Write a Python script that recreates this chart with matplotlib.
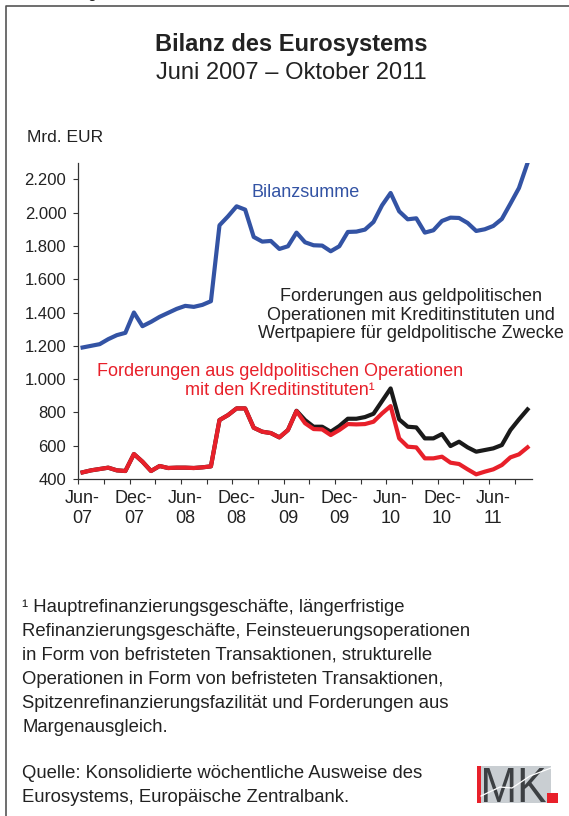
import numpy as np
import pandas as pd
import matplotlib
matplotlib.use("Agg")
import matplotlib.pyplot as plt
from matplotlib.patches import Rectangle, PathPatch
from matplotlib.textpath import TextPath
from matplotlib.font_manager import FontProperties
from matplotlib.transforms import Affine2D
from matplotlib.lines import Line2D
from matplotlib.ticker import FuncFormatter

plt.rcParams["font.family"] = ["Liberation Sans", "DejaVu Sans"]

# monthly, Jun 2007 .. Oct 2011 (Mrd. EUR)
months = pd.date_range("2007-06-01", periods=53, freq="MS")

bilanzsumme = [1190, 1200, 1210, 1240, 1264, 1278, 1400, 1318, 1344, 1374, 1398, 1422,
               1440, 1434, 1446, 1468, 1924, 1978, 2038, 2018, 1854, 1826, 1830, 1782,
               1798, 1880, 1822, 1804, 1802, 1768, 1798, 1884, 1886, 1898, 1944, 2044,
               2118, 2008, 1960, 1966, 1880, 1894, 1950, 1970, 1968, 1938, 1890, 1900,
               1920, 1962, 2054, 2148, 2298]

ford_mit_wp = [440, 452, 460, 468, 452, 448, 550, 504, 448, 478, 466, 468,
               468, 466, 470, 476, 754, 784, 824, 824, 708, 684, 676, 650,
               694, 810, 754, 714, 714, 684, 718, 762, 762, 772, 792, 868,
               944, 758, 714, 710, 644, 644, 670, 598, 624, 590, 564, 574,
               584, 604, 694, 758, 818]

ford_ki = [440, 452, 460, 468, 452, 448, 550, 504, 448, 478, 466, 468,
           468, 466, 470, 476, 754, 784, 824, 824, 708, 684, 676, 650,
           694, 808, 735, 700, 698, 664, 694, 730, 728, 730, 744, 794,
           838, 644, 594, 590, 524, 524, 534, 498, 490, 458, 428, 444,
           458, 484, 530, 548, 590]

BLUE = "#3353A4"
RED = "#E8202A"
TXT = "#222222"

W, H = 569, 816
fig = plt.figure(figsize=(W / 100, H / 100), dpi=100)


def fx(px):
    return px / W


def fy(py):
    return 1 - py / H


ax = fig.add_axes([fx(78.3), fy(479), (531.8 - 78.3) / W, (479 - 162.7) / H])
x = np.arange(len(months))
ax.plot(x, bilanzsumme, color=BLUE, lw=3.0, solid_joinstyle="round", zorder=3)
ax.plot(x, ford_mit_wp, color="#1a1a1a", lw=3.0, solid_joinstyle="round", zorder=3)
ax.plot(x, ford_ki, color=RED, lw=3.0, solid_joinstyle="round", zorder=4)

ax.set_xlim(-0.5, len(months) - 0.5)
ax.set_ylim(400, 2300)
ax.set_yticks(np.arange(400, 2201, 200))
ax.yaxis.set_major_formatter(FuncFormatter(lambda v, p: f"{int(v):,}".replace(",", ".")))

lab_idx = np.arange(0, len(months), 6)
ax.set_xticks(lab_idx)
ax.set_xticklabels([months[i].strftime("%b-\n%y") for i in lab_idx], linespacing=1.25)
ax.set_xticks(np.arange(-0.5, len(months) - 1, 3), minor=True)

for s in ["top", "right"]:
    ax.spines[s].set_visible(False)
for s in ["left", "bottom"]:
    ax.spines[s].set_color("#333333")
    ax.spines[s].set_linewidth(0.9)
ax.tick_params(axis="y", direction="out", length=3.6, width=0.8, color="#333333",
               labelsize=12, pad=5, labelcolor=TXT)
ax.tick_params(axis="x", which="major", length=0, labelsize=13, pad=8, labelcolor=TXT)
ax.tick_params(axis="x", which="minor", direction="out", length=3.6, width=0.8,
               color="#333333")
ax.patch.set_visible(False)

# series labels
ax.text(26.1, 2122, "Bilanzsumme", color=BLUE, fontsize=13, ha="center", va="center")
ax.text(38.4, 1384, "Forderungen aus geldpolitischen\nOperationen mit Kreditinstituten und\n"
        "Wertpapiere für geldpolitische Zwecke", color=TXT, fontsize=13,
        ha="center", va="center", linespacing=1.1)
ax.text(23.1, 988, "Forderungen aus geldpolitischen Operationen\nmit den Kreditinstituten¹",
        color=RED, fontsize=13, ha="center", va="center", linespacing=1.1)

# titles
fig.text(fx(291), fy(45), "Bilanz des Eurosystems", fontsize=17, fontweight="bold",
         ha="center", va="center", color=TXT)
fig.text(fx(291), fy(73), "Juni 2007 – Oktober 2011", fontsize=17,
         ha="center", va="center", color=TXT)
fig.text(fx(27), fy(138), "Mrd. EUR", fontsize=12.5, ha="left", va="center", color=TXT)

# footnote and source
notes = ["¹ Hauptrefinanzierungsgeschäfte, längerfristige",
         "Refinanzierungsgeschäfte, Feinsteuerungsoperationen",
         "in Form von befristeten Transaktionen, strukturelle",
         "Operationen in Form von befristeten Transaktionen,",
         "Spitzenrefinanzierungsfazilität und Forderungen aus",
         "Margenausgleich."]
for k, line in enumerate(notes):
    fig.text(fx(22), fy(607 + 24 * k), line, fontsize=13.3, ha="left", va="center", color=TXT)
for k, line in enumerate(["Quelle: Konsolidierte wöchentliche Ausweise des",
                          "Eurosystems, Europäische Zentralbank."]):
    fig.text(fx(22), fy(773 + 24 * k), line, fontsize=13.3, ha="left", va="center", color=TXT)

# cut-off caption above the frame
fig.text(fx(30), fy(-1.5), "Abbildung", fontsize=11, ha="left", va="baseline", color=TXT)

# frame
fig.add_artist(Line2D([fx(5.5), fx(5.5), fx(W)], [0, fy(5.5), fy(5.5)],
                      color="#555555", lw=1.2, transform=fig.transFigure))

# IMK logo
fig.add_artist(Rectangle((fx(477), fy(803)), (551 - 477) / W, (803 - 766) / H,
                         transform=fig.transFigure, color="#C9CED2", lw=0))
fig.add_artist(Line2D([fx(481), fx(500), fx(512), fx(530), fx(551)],
                      [fy(796), fy(787), fy(788), fy(776), fy(768)],
                      color="white", lw=0.9, transform=fig.transFigure))
fig.add_artist(Rectangle((fx(477), fy(803)), 4.5 / W, (803 - 766) / H,
                         transform=fig.transFigure, color=RED, lw=0))
fig.add_artist(Rectangle((fx(547), fy(803)), 11 / W, 10 / H,
                         transform=fig.transFigure, color=RED, lw=0))
tp = TextPath((0, 0), "MK", size=1, prop=FontProperties(family="Liberation Sans"))
ext = tp.get_extents()
sx = (546 - 484) / ext.width
sy = (802 - 768) / ext.height
tr = Affine2D().translate(-ext.x0, -ext.y0).scale(sx, sy).translate(484, H - 802)
fig.add_artist(PathPatch(tp, transform=tr, color="#3D4043", lw=0))

fig.savefig("out.png", dpi=100)
